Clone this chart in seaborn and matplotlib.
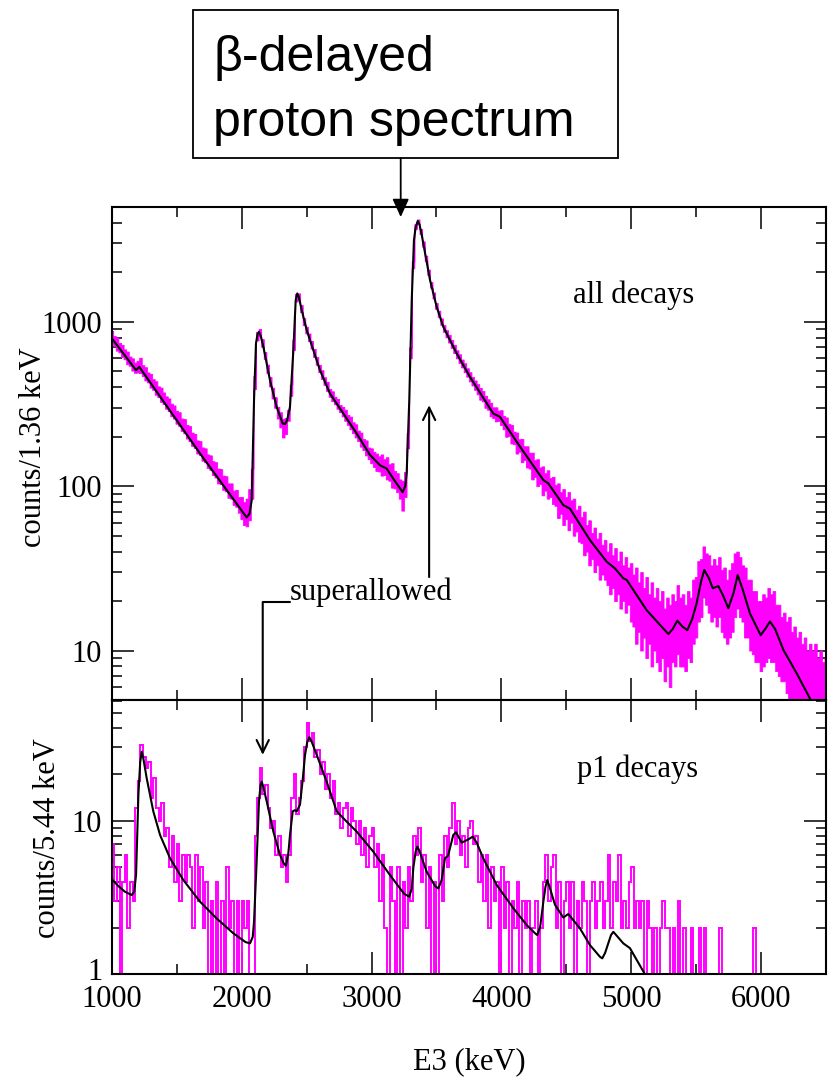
import numpy as np
import matplotlib
matplotlib.use("Agg")
import matplotlib.pyplot as plt
import matplotlib.transforms as mtransforms
import seaborn as sns
from matplotlib.ticker import LogLocator, NullFormatter, MultipleLocator, FixedLocator
from matplotlib.patches import Rectangle, ConnectionPatch

# ---------------- data ----------------
energy_start = 1000   # keV
bin_width = 20        # keV, display bins

# all decays: upper / lower envelope of the noisy spectrum (counts / 1.36 keV)
all_hi = [
    880, 820, 805, 745, 725, 680, 660, 615, 600, 565,
    580, 605, 545, 530, 492, 482, 448, 435, 405, 398,
    372, 352, 342, 318, 310, 288, 282, 258, 256, 236,
    232, 212, 208, 190, 188, 172, 170, 156, 154, 142,
    140, 128, 127, 116, 115, 104, 104, 94, 95, 86,
    86, 80, 84, 96, 128, 470, 870, 905, 785, 655,
    550, 462, 398, 348, 304, 282, 256, 260, 292, 415,
    780, 1480, 1490, 1265, 1055, 935, 850, 765, 685, 612,
    548, 508, 460, 432, 390, 378, 350, 340, 312, 304,
    292, 272, 265, 245, 238, 218, 212, 194, 190, 172,
    170, 162, 158, 152, 156, 146, 150, 136, 138, 124,
    120, 110, 108, 122, 210, 700, 2330, 3930, 4200, 3680,
    3090, 2530, 2080, 1750, 1510, 1305, 1170, 1050, 955, 890,
    835, 775, 725, 672, 635, 590, 560, 522, 494, 462,
    440, 418, 396, 380, 355, 338, 322, 302, 302, 288,
    290, 268, 262, 240, 236, 215, 212, 193, 194, 175,
    175, 160, 160, 144, 146, 130, 132, 120, 125, 112,
    114, 102, 104, 92, 96, 86, 92, 82, 84, 72,
    76, 65, 70, 58, 62, 52, 56, 48, 52, 44,
    47, 40, 45, 38, 42, 35, 40, 33, 37, 32,
    34, 29, 32, 26, 30, 24, 28, 22, 26, 21,
    24, 20, 23, 18, 21, 19, 22, 20, 25, 21,
    22, 19, 23, 21, 27, 28, 35, 36, 43, 39,
    38, 33, 36, 33, 37, 31, 32, 27, 31, 34,
    39, 40, 37, 33, 32, 27, 27, 23, 23, 20,
    20, 22, 21, 24, 22, 23, 19, 19, 16, 17,
    15, 16, 13, 14, 12, 13, 11, 12, 10, 11,
    10, 11, 9, 10, 8.5, 9,
]
all_lo = [
    735, 715, 668, 652, 610, 592, 552, 540, 505, 490,
    492, 488, 468, 440, 428, 398, 386, 360, 348, 326,
    316, 296, 286, 266, 258, 240, 233, 217, 210, 195,
    188, 176, 171, 158, 155, 143, 140, 129, 126, 117,
    113, 104, 103, 95, 93, 85, 84, 77, 75, 69,
    63, 58, 57, 62, 84, 390, 770, 815, 705, 595,
    490, 405, 342, 300, 258, 228, 198, 208, 250, 355,
    675, 1330, 1355, 1145, 955, 850, 765, 688, 612, 548,
    494, 450, 414, 380, 350, 329, 315, 296, 282, 266,
    250, 236, 222, 210, 198, 188, 174, 166, 154, 146,
    138, 131, 124, 123, 116, 117, 110, 108, 98, 97,
    92, 84, 71, 86, 170, 600, 2120, 3680, 3960, 3420,
    2870, 2350, 1930, 1615, 1390, 1200, 1070, 960, 870, 805,
    748, 695, 645, 600, 562, 528, 494, 464, 434, 410,
    386, 362, 336, 328, 300, 292, 266, 260, 248, 250,
    236, 222, 200, 202, 182, 180, 158, 162, 140, 144,
    130, 128, 110, 114, 100, 103, 88, 94, 84, 86,
    78, 76, 64, 68, 58, 63, 54, 60, 50, 53,
    46, 45, 38, 40, 33, 36, 30, 33, 27, 29,
    27, 25, 22, 24, 20, 22, 18, 20, 17, 19,
    15, 14, 11, 13, 10, 12, 9, 11, 8, 10,
    8.5, 7.5, 9, 6.5, 8, 6, 8.5, 8, 9.5, 8,
    8, 7.5, 9, 8.5, 11, 12, 15, 16, 21, 19,
    17, 15, 16, 14, 16, 13, 12, 11, 12, 13,
    16, 18, 16, 15, 12, 12, 10, 9.5, 8.5, 8.5,
    7.5, 8, 8.5, 9, 8.5, 8.5, 7.5, 7, 6.5, 6.5,
    5.5, 5, 4.2, 4.2, 4.2, 4.2, 4.2, 4.2, 4.2, 4.2,
    4.2, 4.2, 4.2, 4.2, 4.2, 4.2,
]

# all decays: fit curve
all_fit_e = [1000, 1186, 1211, 1679, 2038, 2060, 2077, 2095, 2110, 2122, 2133, 2145,
             2167, 2218, 2269, 2316, 2334, 2350, 2372, 2398, 2416, 2428, 2440, 2460,
             2501, 2603, 2680, 2783, 2886, 2988, 3066, 3117, 3168, 3240, 3260, 3271,
             3291, 3310, 3327, 3340, 3356, 3370, 3385, 3399, 3451, 3502, 3553, 3656,
             3759, 3938, 3990, 4144, 4324, 4362, 4478, 4529, 4683, 4812, 4876, 4940,
             4966, 5120, 5287, 5320, 5356, 5395, 5433, 5470, 5505, 5540, 5564, 5600,
             5629, 5672, 5710, 5749, 5790, 5821, 5860, 5916, 5998, 6035, 6070, 6110,
             6173, 6276, 6384, 6500]
all_fit_y = [793, 508, 532, 158, 64.6, 68, 82, 334, 741, 840, 869, 830,
             705, 441, 304, 241, 239, 252, 304, 673, 1355, 1489, 1420, 1200,
             890, 508, 366, 277, 209, 155, 134, 128, 111, 92, 100, 120,
             334, 1355, 3141, 3750, 4110, 3900, 3450, 3000, 1794, 1234, 933, 643,
             462, 277, 264, 174, 109, 104, 76.7, 73, 47, 34.7, 31.6, 27.5,
             26.9, 17.6, 12.6, 13.5, 15.2, 14, 13.3, 15.5, 19.4, 26.5, 30.9, 27.5,
             23.9, 24.7, 21.5, 18.1, 22.5, 28.8, 23.5, 16.8, 12.4, 13.6, 15.0, 13.5,
             10.1, 7.26, 5.0, 3.4]

# p1 decays: histogram counts (counts / 5.44 keV), one value per display bin
p1_counts = [
    7, 3, 5, 1, 4, 6, 2, 4, 3, 12,
    18, 31, 26, 22, 24, 14, 19, 12, 10, 13,
    8, 9, 5, 8, 4, 7, 3, 6, 4, 6,
    5, 2, 6, 3, 5, 2, 4, 1, 3, 0,
    4, 1, 3, 0, 5, 2, 3, 0, 3, 1,
    3, 2, 3, 0, 1, 8, 14, 22, 15, 17,
    12, 9, 10, 6, 8, 5, 6, 4, 6, 14,
    20, 11, 14, 18, 30, 43, 33, 37, 26, 29,
    20, 24, 16, 20, 14, 18, 11, 13, 9, 12,
    13, 8, 12, 10, 7, 10, 6, 9, 5, 8,
    9, 5, 7, 3, 6, 2, 0, 5, 3, 1,
    5, 0, 4, 2, 5, 3, 8, 6, 9, 4,
    6, 2, 5, 0, 4, 1, 6, 3, 8, 5,
    9, 13, 7, 10, 6, 8, 5, 9, 10, 7,
    8, 4, 6, 3, 6, 2, 5, 3, 4, 0,
    5, 2, 4, 1, 3, 2, 4, 0, 3, 2,
    3, 0, 2, 3, 1, 2, 4, 6, 3, 5,
    6, 2, 4, 1, 3, 4, 2, 4, 0, 3,
    2, 4, 3, 1, 3, 4, 2, 3, 4, 2,
    3, 6, 2, 4, 3, 6, 2, 3, 2, 4,
    5, 2, 3, 2, 3, 1, 3, 2, 1, 2,
    0, 2, 3, 2, 2, 1, 2, 1, 3, 1,
    2, 1, 0, 2, 1, 0, 2, 1, 2, 0,
    1, 0, 1, 0, 2, 1, 0, 1, 0, 1,
    0, 1, 0, 1, 0, 1, 0, 2, 1, 0,
    0, 1, 0, 0, 1, 0, 0, 1, 0, 0,
    0, 0, 1, 0, 0, 0, 1, 0, 0, 0,
    0, 0, 0, 1, 0,
]

# p1 decays: fit curve
p1_fit_e = [1000, 1050, 1100, 1152, 1172, 1186, 1196, 1204, 1218, 1230, 1242, 1268,
            1319, 1371, 1448, 1550, 1679, 1807, 1935, 2030, 2064, 2085, 2095, 2115,
            2133, 2145, 2154, 2165, 2193, 2244, 2295, 2325, 2341, 2360, 2372, 2393,
            2410, 2424, 2449, 2470, 2488, 2505, 2521, 2540, 2578, 2655, 2732, 2809,
            2886, 3014, 3142, 3250, 3290, 3310, 3322, 3340, 3353, 3368, 3425, 3490,
            3515, 3540, 3566, 3590, 3630, 3651, 3672, 3695, 3740, 3780, 3810, 3861,
            3965, 4093, 4196, 4260, 4277, 4300, 4324, 4340, 4354, 4370, 4414, 4478,
            4516, 4606, 4683, 4760, 4778, 4800, 4845, 4863, 4880, 4940, 4991, 5107, 5150]
p1_fit_y = [4.15, 3.75, 3.45, 3.28, 3.45, 4.43, 8.5, 14.7, 24, 28.1, 25.5, 18.9,
            11.5, 8.07, 5.69, 4.11, 2.97, 2.31, 1.85, 1.62, 1.59, 1.75, 2.2, 5.41,
            13.3, 17, 17.9, 16.8, 13.3, 8.48, 5.98, 5.25, 5.09, 6.2, 8.07, 11.5,
            11.7, 11.5, 12.7, 18.5, 26.8, 32.5, 34.9, 32.5, 26.8, 17.9, 11.5, 9.85,
            8.48, 6.28, 4.43, 3.35, 3.2, 3.6, 4.9, 6.3, 6.77, 6.4, 4.65, 3.75,
            3.62, 4.1, 5.69, 5.92, 8.07, 8.4, 7.8, 7.2, 7.5, 7.87, 7.2, 5.69,
            3.81, 2.69, 2.09, 1.85, 1.8, 2.05, 2.97, 3.7, 4.11, 3.75, 2.83, 2.34,
            2.47, 1.99, 1.55, 1.3, 1.27, 1.38, 1.8, 1.89, 1.82, 1.59, 1.48, 1.0, 0.9]

x_ticks = [1000, 2000, 3000, 4000, 5000, 6000]
top_yticks = [10, 100, 1000]
bot_yticks = [1, 10]

# ---------------- style ----------------
sns.set_style("ticks")
plt.rcParams["font.family"] = ["Liberation Serif", "DejaVu Serif"]
plt.rcParams["axes.edgecolor"] = "black"
plt.rcParams["xtick.color"] = "black"
plt.rcParams["ytick.color"] = "black"
plt.rcParams["text.color"] = "black"
plt.rcParams["axes.labelcolor"] = "black"
MAG = "#ff00ff"
W, H = 836, 1077

fig = plt.figure(figsize=(W / 100, H / 100), dpi=100)
x0, x1 = 111.9, 825.8
ax_top = fig.add_axes([x0 / W, 1 - 700 / H, (x1 - x0) / W, (700 - 207) / H])
ax_bot = fig.add_axes([x0 / W, 1 - 974.3 / H, (x1 - x0) / W, (974.3 - 700) / H])

# top panel
band_e = energy_start + bin_width * np.arange(len(all_hi))
ax_top.fill_between(band_e, all_lo, all_hi, step="mid", color=MAG, lw=0.6, zorder=1)
sns.lineplot(x=all_fit_e, y=all_fit_y, ax=ax_top, color="black", lw=1.5,
             estimator=None, sort=False, zorder=3)

# bottom panel
edges = energy_start + bin_width * np.arange(len(p1_counts) + 1)
ax_bot.stairs(np.clip(np.array(p1_counts, dtype=float), 0.3, None), edges,
              color=MAG, lw=1.4, baseline=None, zorder=1)
sns.lineplot(x=p1_fit_e, y=p1_fit_y, ax=ax_bot, color="black", lw=1.5,
             estimator=None, sort=False, zorder=3)

for ax in (ax_top, ax_bot):
    ax.set_yscale("log")
    ax.set_xlim(1000, 6500)
    ax.xaxis.set_major_locator(FixedLocator(x_ticks))
    ax.xaxis.set_minor_locator(MultipleLocator(500))
    ax.yaxis.set_minor_locator(LogLocator(base=10, subs=np.arange(2, 10), numticks=30))
    ax.yaxis.set_minor_formatter(NullFormatter())
    ax.tick_params(which="both", direction="in", top=True, right=True,
                   width=1.1, colors="black", labelsize=22)
    ax.tick_params(which="major", length=15.5)
    ax.tick_params(which="minor", length=7.5)
    ax.tick_params(axis="y", pad=7)
    ax.tick_params(axis="x", pad=8)
    for s in ax.spines.values():
        s.set_linewidth(1.5)
        s.set_color("black")
    ax.set_xlabel("")
    ax.set_ylabel("")

ax_top.set_ylim(5, 5000)
ax_top.set_yticks(top_yticks, [str(v) for v in top_yticks])
ax_top.yaxis.set_minor_formatter(NullFormatter())
ax_top.tick_params(labelbottom=False)

ax_bot.set_ylim(1, 61)
ax_bot.set_yticks(bot_yticks, [str(v) for v in bot_yticks])
ax_bot.yaxis.set_minor_formatter(NullFormatter())
ax_bot.set_xticks(x_ticks, [str(v) for v in x_ticks])

# nudge the lowest y label ("1") up slightly so it does not collide with "1000"
lbl_one = ax_bot.get_yticklabels()[0]
lbl_one.set_transform(lbl_one.get_transform() +
                      mtransforms.ScaledTranslation(0, 4 / 72, fig.dpi_scale_trans))

# axis labels
fig.text(34 / W, 1 - 447 / H, "counts/1.36 keV", rotation=90, ha="center", va="center", fontsize=22)
fig.text(48 / W, 1 - 838 / H, "counts/5.44 keV", rotation=90, ha="center", va="center", fontsize=22)
fig.text(469 / W, 1 - 1069 / H, "E3 (keV)", ha="center", va="baseline", fontsize=22)

# panel annotations
ax_top.text(4555, 1300, "all decays", fontsize=22, ha="left", va="baseline")
ax_bot.text(4581, 19.3, "p1 decays", fontsize=22, ha="left", va="baseline")
ax_top.text(2372, 20.3, "superallowed", fontsize=22, ha="left", va="baseline")
ax_top.plot([2162, 2372], [19.7, 19.7], color="black", lw=1.5, clip_on=False)
con = ConnectionPatch(xyA=(2162, 19.7), coordsA=ax_top.transData,
                      xyB=(2162, 26.8), coordsB=ax_bot.transData,
                      arrowstyle="->,head_length=0.45,head_width=0.22", mutation_scale=20,
                      lw=1.5, color="black", shrinkA=0, shrinkB=0)
fig.add_artist(con)
ax_top.annotate("", xy=(3444, 311), xytext=(3444, 28),
                arrowprops=dict(arrowstyle="->,head_length=0.45,head_width=0.22",
                                mutation_scale=20, lw=1.5, color="black",
                                shrinkA=0, shrinkB=0))

# title box
fig.add_artist(Rectangle((193 / W, 1 - 158 / H), (618 - 193) / W, (158 - 10) / H,
                         transform=fig.transFigure, fill=False, ec="black", lw=1.3))
fig.text(213 / W, 1 - 71 / H, "β-delayed", fontsize=36, ha="left", va="baseline",
         color="black", family=["Liberation Sans", "DejaVu Sans"])
fig.text(213 / W, 1 - 136 / H, "proton spectrum", fontsize=36, ha="left", va="baseline",
         color="black", family=["Liberation Sans", "DejaVu Sans"])
ax_top.annotate("", xy=(3225, 4340), xycoords="data",
                xytext=(400.7 / W, 1 - 158 / H), textcoords="figure fraction",
                arrowprops=dict(arrowstyle="-|>,head_length=0.55,head_width=0.25",
                                mutation_scale=20, lw=1.3, color="black",
                                shrinkA=0, shrinkB=0),
                annotation_clip=False)

fig.savefig("out.png", dpi=100)
